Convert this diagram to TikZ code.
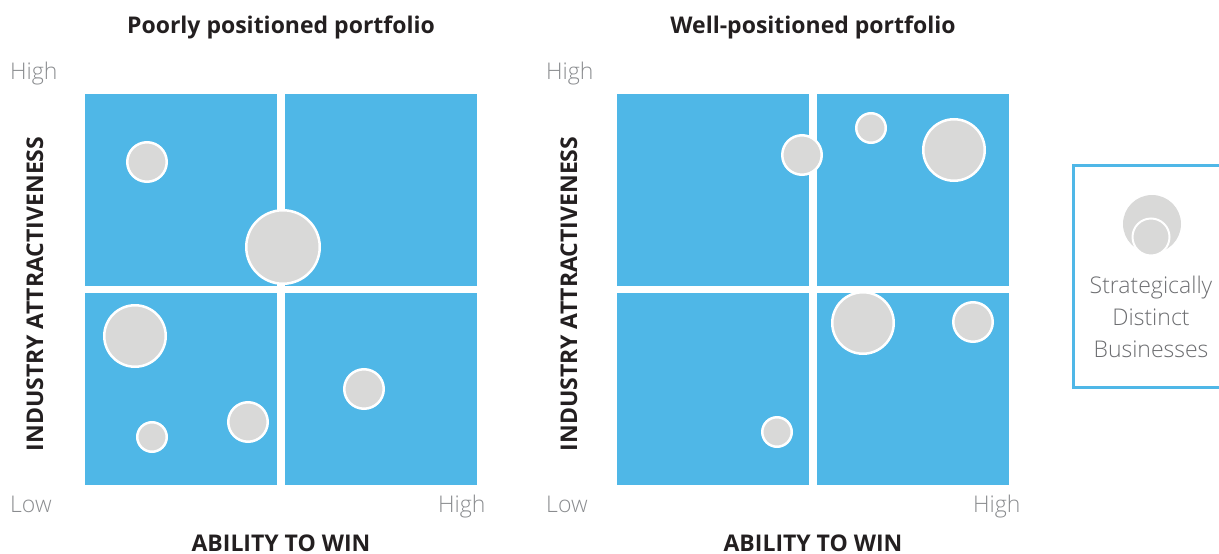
\documentclass[tikz,border=0pt]{standalone}
\usepackage{fontspec}
\setmainfont{Open Sans}
\newfontfamily\lightfont{Open Sans Light}
\definecolor{quadblue}{HTML}{4FB7E7}
\definecolor{bubgray}{HTML}{D9D9D8}
\definecolor{axisgray}{HTML}{8A8C8F}
\definecolor{leggray}{HTML}{6D6E71}
\definecolor{titleblack}{HTML}{231F20}
\newcommand\titletext{\fontsize{23}{27}\selectfont\bfseries}
\newcommand\scaletext{\lightfont\fontsize{23}{27}\selectfont}
\tikzset{
  quad/.style={rectangle,fill=quadblue,minimum size=192pt,inner sep=0pt},
  bub/.style={circle,fill=bubgray,draw=white,line width=2.5pt,inner sep=0pt},
  bsmall/.style={bub,minimum size=29.5pt},
  bmid/.style={bub,minimum size=39.5pt},
  blarge/.style={bub,minimum size=61.5pt},
  bhuge/.style={bub,minimum size=73.5pt},
  heading/.style={font=\titletext,text=titleblack,inner sep=0pt,anchor=base},
  scalelab/.style={font=\scaletext,text=axisgray,inner sep=0pt,anchor=base west},
  legbox/.style={rectangle,draw=quadblue,line width=3pt,minimum width=167pt,minimum height=222pt}
}

\begin{document}
\begin{tikzpicture}[x=1pt,y=-1pt]
\useasboundingbox (0,0) rectangle (1219,554);

% poorly positioned portfolio
\node[heading] (ptitle) at (281,33) {Poorly positioned portfolio};
\node[quad] (p11) at (181,190) {};
\node[quad] (p12) at (381,190) {};
\node[quad] (p21) at (181,389) {};
\node[quad] (p22) at (381,389) {};
\node[scalelab] (phighy) at (10,79) {High};
\node[scalelab] (plow) at (10,512) {Low};
\node[scalelab] (phighx) at (438,512) {High};
\node[heading,rotate=90] (pyaxis) at (43,294) {INDUSTRY ATTRACTIVENESS};
\node[heading] (pxaxis) at (281,551) {ABILITY TO WIN};

\node[bmid] (pa) at (147,162) {};
\node[bhuge] (pb) at (283,247) {};
\node[blarge] (pc) at (135,336) {};
\node[bsmall] (pd) at (152,437) {};
\node[bmid] (pe) at (248,422) {};
\node[bmid] (pf) at (364,389) {};

% well-positioned portfolio
\node[heading] (wtitle) at (813,33) {Well-positioned portfolio};
\node[quad] (w11) at (713,190) {};
\node[quad] (w12) at (912.5,190) {};
\node[quad] (w21) at (713,389) {};
\node[quad] (w22) at (912.5,389) {};
\node[scalelab] (whighy) at (546,79) {High};
\node[scalelab] (wlow) at (546,512) {Low};
\node[scalelab] (whighx) at (973,512) {High};
\node[heading,rotate=90] (wyaxis) at (577,294) {INDUSTRY ATTRACTIVENESS};
\node[heading] (wxaxis) at (813,551) {ABILITY TO WIN};

\node[bmid] (wa) at (802,155) {};
\node[bsmall] (wb) at (871,128) {};
\node[blarge] (wc) at (954,150) {};
\node[blarge] (wd) at (863,323) {};
\node[bmid] (we) at (973,322) {};
\node[bsmall] (wf) at (777,432) {};

% legend
\node[legbox] (leg) at (1157,276) {};
\node[circle,fill=bubgray,minimum size=58pt,inner sep=0pt] (legbig) at (1152,224) {};
\node[bub,line width=2pt,minimum size=37pt] (legsmall) at (1151,237) {};
\node[align=center,font=\lightfont\fontsize{23}{32}\selectfont,text=leggray,inner sep=0pt,anchor=base] (legtext) at (1151,357) {Strategically\\Distinct\\Businesses};
\end{tikzpicture}
\end{document}
